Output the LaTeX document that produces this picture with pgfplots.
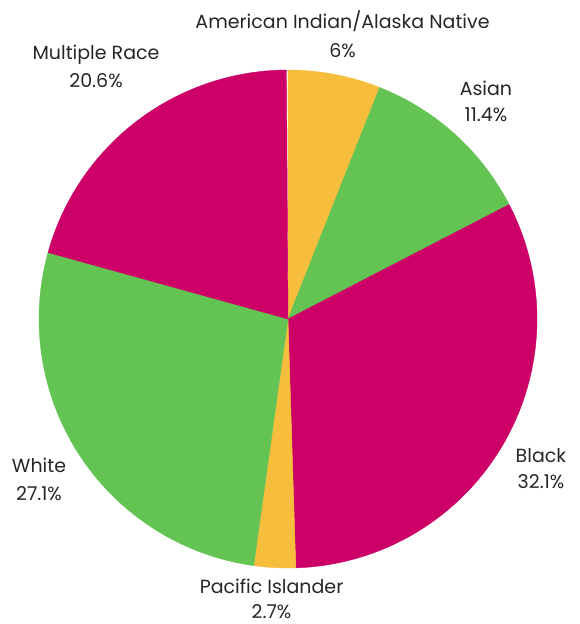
\documentclass[border=0pt]{standalone}
\usepackage{pgfplots}
\pgfplotsset{compat=1.18}
\usepackage{pgfplotstable}
\usepackage{fontspec}
\setmainfont{Poppins}
\definecolor{cY}{HTML}{F6BE3C}
\definecolor{cG}{HTML}{63C454}
\definecolor{cM}{HTML}{CC0066}
\definecolor{txt}{HTML}{262626}
\pgfplotstableread[col sep=comma]{
name,pct,col,lx,lya,lyb
American Indian/Alaska Native,6,cY,0.219,1.165,1.052
Asian,11.4,cG,0.795,0.896,0.795
Black,32.1,cM,1.016,-0.576,-0.681
Pacific Islander,2.7,cY,-0.066,-1.104,-1.203
White,27.1,cG,-1.000,-0.618,-0.727
Multiple Race,20.6,cM,-0.771,1.044,0.928
}\piedata
\begin{document}
\begin{tikzpicture}
\begin{axis}[hide axis, scale only axis, width=579pt, height=624pt,
  xmin=-1.1566, xmax=1.1687, ymin=-1.2249, ymax=1.2811, clip=false]
\coordinate (ll) at (rel axis cs:0,0);
\coordinate (ur) at (rel axis cs:1,1);
\pgfmathsetmacro\pCum{0}
\pgfplotsforeachungrouped \i in {0,...,5}{%
  \pgfplotstablegetelem{\i}{pct}\of\piedata \let\pPct\pgfplotsretval
  \pgfplotstablegetelem{\i}{col}\of\piedata \let\pCol\pgfplotsretval
  \pgfplotstablegetelem{\i}{name}\of\piedata \let\pName\pgfplotsretval
  \pgfplotstablegetelem{\i}{lx}\of\piedata \let\pLx\pgfplotsretval
  \pgfplotstablegetelem{\i}{lya}\of\piedata \let\pLya\pgfplotsretval
  \pgfplotstablegetelem{\i}{lyb}\of\piedata \let\pLyb\pgfplotsretval
  \pgfmathsetmacro\aStart{90-3.6*\pCum}
  \pgfmathsetmacro\aEnd{90-3.6*(\pCum+\pPct)}
  \edef\cmd{%
    \noexpand\addplot[fill=\pCol, draw=\pCol, line width=0.4pt, domain=\aEnd:\aStart, samples=150] ({cos(x)},{sin(x)}) -- (0,0) -- cycle;
    \noexpand\node[anchor=base, font=\noexpand\fontsize{19}{22}\noexpand\selectfont, text=txt, inner sep=0pt] at (axis cs:\pLx,\pLya) {\pName};
    \noexpand\node[anchor=base, font=\noexpand\fontsize{19}{22}\noexpand\selectfont, text=txt, inner sep=0pt] at (axis cs:\pLx,\pLyb) {\pPct\noexpand\%};
  }%
  \cmd
  \pgfmathsetmacro\pCum{\pCum+\pPct}
}
\end{axis}
\pgfresetboundingbox
\useasboundingbox (ll) rectangle (ur);
\end{tikzpicture}
\end{document}
